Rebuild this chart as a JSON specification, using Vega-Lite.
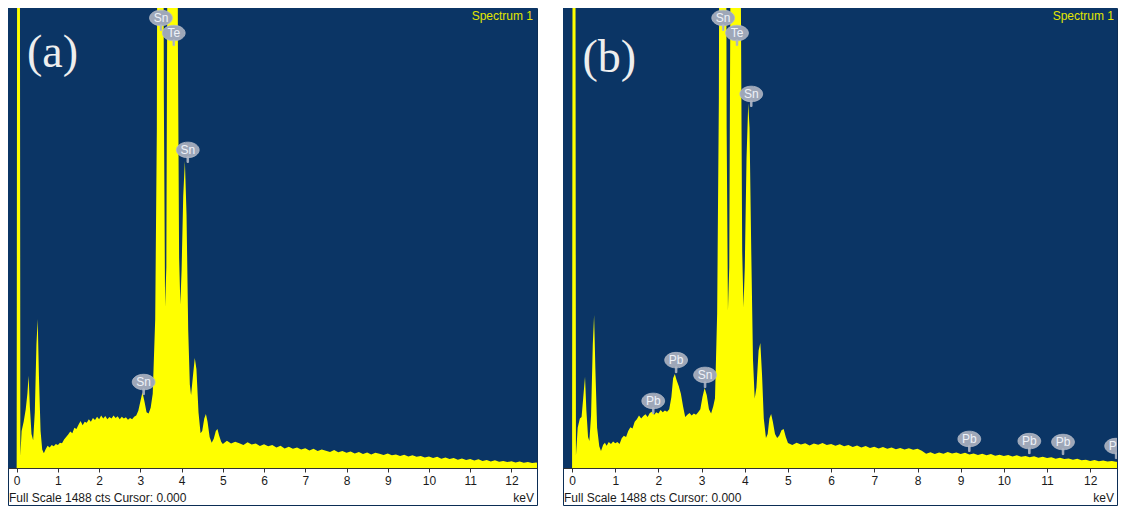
{
  "$schema": "https://vega.github.io/schema/vega-lite/v6.json",
  "background": "white",
  "padding": {"left": 7, "top": 7, "right": 0, "bottom": 0},
  "spacing": 24,
  "config": {
    "view": {"stroke": "#0b2d55", "strokeWidth": 1},
    "font": "Liberation Sans",
    "axisX": {
      "values": [0,0.2,0.4,0.6,0.8,1,1.2,1.4,1.6,1.8,2,2.2,2.4,2.6,2.8,3,3.2,3.4,3.6,3.8,4,4.2,4.4,4.6,4.8,5,5.2,5.4,5.6,5.8,6,6.2,6.4,6.6,6.8,7,7.2,7.4,7.6,7.8,8,8.2,8.4,8.6,8.8,9,9.2,9.4,9.6,9.8,10,10.2,10.4,10.6,10.8,11,11.2,11.4,11.6,11.8,12,12.2,12.4,12.6],
      "labelExpr": "abs(datum.value - round(datum.value)) < 0.001 ? format(datum.value, 'd') : ''",
      "labelOverlap": false, "labelFont": "Liberation Sans", "labelFontSize": 12, "labelColor": "#1a1a1a",
      "labelPadding": 3, "tickSize": 4, "tickColor": "#333333", "domainColor": "#333333",
      "grid": false, "offset": -37, "labelFlush": false, "zindex": 1, "title": null
    }
  },
  "datasets": {
    "one": [{"k": 1}],
    "specA": [
      {"e":0,"c":0},{"e":0.02,"c":3000},{"e":0.07,"c":3000},{"e":0.09,"c":40},{"e":0.12,"c":120},{"e":0.17,"c":150},{"e":0.22,"c":190},{"e":0.26,"c":240},{"e":0.29,"c":298},{"e":0.32,"c":200},{"e":0.36,"c":110},{"e":0.4,"c":90},{"e":0.44,"c":180},{"e":0.48,"c":400},{"e":0.51,"c":482},{"e":0.54,"c":300},{"e":0.58,"c":120},{"e":0.62,"c":60},{"e":0.66,"c":48},{"e":0.7,"c":60},{"e":0.75,"c":72},{"e":0.8,"c":66},{"e":0.85,"c":74},{"e":0.9,"c":70},{"e":0.95,"c":78},{"e":1.0,"c":74},{"e":1.05,"c":82},{"e":1.1,"c":80},{"e":1.15,"c":92},{"e":1.2,"c":100},{"e":1.25,"c":108},{"e":1.3,"c":118},{"e":1.35,"c":112},{"e":1.4,"c":130},{"e":1.45,"c":126},{"e":1.5,"c":140},{"e":1.55,"c":152},{"e":1.6,"c":138},{"e":1.65,"c":150},{"e":1.7,"c":146},{"e":1.75,"c":158},{"e":1.8,"c":150},{"e":1.85,"c":162},{"e":1.9,"c":155},{"e":1.95,"c":166},{"e":2.0,"c":158},{"e":2.05,"c":170},{"e":2.1,"c":160},{"e":2.15,"c":168},{"e":2.2,"c":158},{"e":2.25,"c":165},{"e":2.3,"c":160},{"e":2.35,"c":170},{"e":2.4,"c":162},{"e":2.45,"c":167},{"e":2.5,"c":158},{"e":2.55,"c":166},{"e":2.6,"c":160},{"e":2.65,"c":164},{"e":2.7,"c":156},{"e":2.75,"c":162},{"e":2.8,"c":158},{"e":2.85,"c":166},{"e":2.9,"c":170},{"e":2.95,"c":185},{"e":3.0,"c":215},{"e":3.05,"c":245},{"e":3.1,"c":215},{"e":3.15,"c":180},{"e":3.2,"c":176},{"e":3.25,"c":195},{"e":3.3,"c":240},{"e":3.36,"c":480},{"e":3.4,"c":1100},{"e":3.43,"c":3000},{"e":3.54,"c":3000},{"e":3.57,"c":1200},{"e":3.6,"c":520},{"e":3.63,"c":650},{"e":3.67,"c":2200},{"e":3.7,"c":4000},{"e":3.88,"c":4000},{"e":3.91,"c":1400},{"e":3.94,"c":680},{"e":3.97,"c":530},{"e":4.0,"c":640},{"e":4.04,"c":880},{"e":4.08,"c":993},{"e":4.12,"c":820},{"e":4.16,"c":450},{"e":4.2,"c":270},{"e":4.23,"c":235},{"e":4.27,"c":290},{"e":4.32,"c":356},{"e":4.36,"c":320},{"e":4.41,"c":180},{"e":4.46,"c":112},{"e":4.5,"c":120},{"e":4.55,"c":160},{"e":4.59,"c":175},{"e":4.63,"c":150},{"e":4.68,"c":100},{"e":4.73,"c":82},{"e":4.78,"c":95},{"e":4.83,"c":120},{"e":4.87,"c":126},{"e":4.91,"c":105},{"e":4.96,"c":85},
      {"e":5.0,"c":78},{"e":5.1,"c":88},{"e":5.2,"c":79},{"e":5.3,"c":85},{"e":5.4,"c":80},{"e":5.5,"c":74},{"e":5.6,"c":83},{"e":5.7,"c":76},{"e":5.8,"c":79},{"e":5.9,"c":71},{"e":6.0,"c":77},{"e":6.1,"c":70},{"e":6.2,"c":74},{"e":6.3,"c":66},{"e":6.4,"c":72},{"e":6.5,"c":63},{"e":6.6,"c":69},{"e":6.7,"c":62},{"e":6.8,"c":66},{"e":6.9,"c":60},{"e":7.0,"c":64},{"e":7.1,"c":57},{"e":7.2,"c":62},{"e":7.3,"c":55},{"e":7.4,"c":60},{"e":7.5,"c":56},{"e":7.6,"c":52},{"e":7.7,"c":58},{"e":7.8,"c":51},{"e":7.9,"c":55},{"e":8.0,"c":49},{"e":8.1,"c":53},{"e":8.2,"c":47},{"e":8.3,"c":52},{"e":8.4,"c":45},{"e":8.5,"c":50},{"e":8.6,"c":44},{"e":8.7,"c":49},{"e":8.8,"c":46},{"e":8.9,"c":42},{"e":9.0,"c":47},{"e":9.1,"c":41},{"e":9.2,"c":44},{"e":9.3,"c":39},{"e":9.4,"c":43},{"e":9.5,"c":37},{"e":9.6,"c":41},{"e":9.7,"c":36},{"e":9.8,"c":39},{"e":9.9,"c":34},{"e":10.0,"c":37},{"e":10.1,"c":32},{"e":10.2,"c":36},{"e":10.3,"c":30},{"e":10.4,"c":34},{"e":10.5,"c":29},{"e":10.6,"c":32},{"e":10.7,"c":27},{"e":10.8,"c":31},{"e":10.9,"c":26},{"e":11.0,"c":29},{"e":11.1,"c":24},{"e":11.2,"c":28},{"e":11.3,"c":23},{"e":11.4,"c":26},{"e":11.5,"c":21},{"e":11.6,"c":25},{"e":11.7,"c":20},{"e":11.8,"c":23},{"e":11.9,"c":19},{"e":12.0,"c":22},{"e":12.1,"c":18},{"e":12.2,"c":21},{"e":12.3,"c":17},{"e":12.4,"c":19},{"e":12.5,"c":16},{"e":12.6,"c":18},{"e":12.65,"c":16}
    ],
    "specB": [
      {"e":0,"c":0},{"e":0.02,"c":3000},{"e":0.07,"c":3000},{"e":0.09,"c":40},{"e":0.13,"c":130},{"e":0.18,"c":160},{"e":0.22,"c":165},{"e":0.26,"c":230},{"e":0.3,"c":295},{"e":0.33,"c":190},{"e":0.37,"c":100},{"e":0.4,"c":87},{"e":0.44,"c":170},{"e":0.48,"c":400},{"e":0.51,"c":495},{"e":0.54,"c":320},{"e":0.58,"c":130},{"e":0.63,"c":70},{"e":0.67,"c":55},{"e":0.72,"c":75},{"e":0.76,"c":82},{"e":0.8,"c":72},{"e":0.85,"c":84},{"e":0.9,"c":78},{"e":0.95,"c":86},{"e":1.0,"c":80},{"e":1.05,"c":84},{"e":1.1,"c":78},{"e":1.15,"c":96},{"e":1.2,"c":104},{"e":1.25,"c":100},{"e":1.3,"c":120},{"e":1.35,"c":132},{"e":1.4,"c":128},{"e":1.45,"c":150},{"e":1.5,"c":158},{"e":1.55,"c":170},{"e":1.6,"c":160},{"e":1.65,"c":168},{"e":1.7,"c":174},{"e":1.75,"c":165},{"e":1.8,"c":178},{"e":1.85,"c":182},{"e":1.9,"c":172},{"e":1.95,"c":180},{"e":2.0,"c":176},{"e":2.05,"c":188},{"e":2.1,"c":180},{"e":2.15,"c":186},{"e":2.2,"c":182},{"e":2.25,"c":190},{"e":2.3,"c":230},{"e":2.34,"c":290},{"e":2.38,"c":304},{"e":2.42,"c":285},{"e":2.47,"c":265},{"e":2.52,"c":240},{"e":2.57,"c":200},{"e":2.62,"c":165},{"e":2.67,"c":172},{"e":2.72,"c":178},{"e":2.77,"c":170},{"e":2.82,"c":176},{"e":2.87,"c":172},{"e":2.92,"c":180},{"e":2.97,"c":190},{"e":3.02,"c":230},{"e":3.07,"c":259},{"e":3.12,"c":235},{"e":3.17,"c":190},{"e":3.22,"c":176},{"e":3.27,"c":200},{"e":3.31,"c":226},{"e":3.36,"c":500},{"e":3.4,"c":1200},{"e":3.43,"c":3000},{"e":3.55,"c":3000},{"e":3.58,"c":1100},{"e":3.61,"c":510},{"e":3.64,"c":650},{"e":3.68,"c":2000},{"e":3.71,"c":4000},{"e":3.88,"c":4000},{"e":3.91,"c":1500},{"e":3.94,"c":700},{"e":3.97,"c":520},{"e":4.0,"c":650},{"e":4.04,"c":1000},{"e":4.08,"c":1180},{"e":4.11,"c":1100},{"e":4.15,"c":700},{"e":4.19,"c":350},{"e":4.23,"c":225},{"e":4.27,"c":260},{"e":4.32,"c":380},{"e":4.36,"c":404},{"e":4.4,"c":300},{"e":4.44,"c":160},{"e":4.49,"c":97},{"e":4.53,"c":110},{"e":4.57,"c":160},{"e":4.61,"c":175},{"e":4.65,"c":150},{"e":4.7,"c":110},{"e":4.75,"c":97},{"e":4.8,"c":105},{"e":4.85,"c":122},{"e":4.9,"c":126},{"e":4.95,"c":100},
      {"e":5.0,"c":81},{"e":5.1,"c":74},{"e":5.2,"c":82},{"e":5.3,"c":76},{"e":5.4,"c":80},{"e":5.5,"c":73},{"e":5.6,"c":79},{"e":5.7,"c":75},{"e":5.8,"c":81},{"e":5.9,"c":74},{"e":6.0,"c":78},{"e":6.1,"c":72},{"e":6.2,"c":77},{"e":6.3,"c":70},{"e":6.4,"c":74},{"e":6.5,"c":68},{"e":6.6,"c":73},{"e":6.7,"c":66},{"e":6.8,"c":71},{"e":6.9,"c":65},{"e":7.0,"c":69},{"e":7.1,"c":63},{"e":7.2,"c":68},{"e":7.3,"c":62},{"e":7.4,"c":66},{"e":7.5,"c":61},{"e":7.6,"c":65},{"e":7.7,"c":60},{"e":7.8,"c":64},{"e":7.9,"c":59},{"e":8.0,"c":62},{"e":8.1,"c":56},{"e":8.2,"c":46},{"e":8.3,"c":51},{"e":8.4,"c":45},{"e":8.5,"c":50},{"e":8.6,"c":46},{"e":8.7,"c":52},{"e":8.8,"c":47},{"e":8.9,"c":50},{"e":9.0,"c":45},{"e":9.1,"c":49},{"e":9.2,"c":44},{"e":9.3,"c":47},{"e":9.4,"c":42},{"e":9.5,"c":46},{"e":9.6,"c":41},{"e":9.7,"c":45},{"e":9.8,"c":40},{"e":9.9,"c":43},{"e":10.0,"c":39},{"e":10.1,"c":42},{"e":10.2,"c":37},{"e":10.3,"c":41},{"e":10.4,"c":36},{"e":10.5,"c":39},{"e":10.6,"c":35},{"e":10.7,"c":38},{"e":10.8,"c":33},{"e":10.9,"c":36},{"e":11.0,"c":32},{"e":11.1,"c":35},{"e":11.2,"c":30},{"e":11.3,"c":33},{"e":11.4,"c":29},{"e":11.5,"c":31},{"e":11.6,"c":27},{"e":11.7,"c":30},{"e":11.8,"c":25},{"e":11.9,"c":27},{"e":12.0,"c":23},{"e":12.1,"c":26},{"e":12.2,"c":22},{"e":12.3,"c":24},{"e":12.4,"c":21},{"e":12.5,"c":23},{"e":12.6,"c":20},{"e":12.65,"c":21}
    ],
    "labA": [
      {"el":"Sn","e":3.5,"c":1456},{"el":"Te","e":3.81,"c":1407},{"el":"Sn","e":4.15,"c":1029},{"el":"Sn","e":3.08,"c":278}
    ],
    "labB": [
      {"el":"Pb","e":1.88,"c":217},{"el":"Pb","e":2.41,"c":349},{"el":"Sn","e":3.08,"c":301},{"el":"Sn","e":3.5,"c":1456},{"el":"Te","e":3.82,"c":1407},{"el":"Sn","e":4.15,"c":1210},{"el":"Pb","e":9.2,"c":94},{"el":"Pb","e":10.59,"c":87},{"el":"Pb","e":11.37,"c":84},{"el":"Pb","e":12.6,"c":71}
    ]
  },
  "hconcat": [
    {
      "width": 529,
      "height": 497,
      "layer": [
        {
          "data": {"name": "one"},
          "mark": {"type": "rect", "color": "#0b3565"},
          "encoding": {
            "x": {"datum": -0.21, "type": "quantitative", "title": null,
              "scale": {"domain": [-0.21, 12.62], "nice": false, "zero": false}},
            "x2": {"datum": 12.62},
            "y": {"datum": 0, "type": "quantitative", "axis": null, "title": null,
              "scale": {"domain": [-119.7, 1488], "nice": false, "zero": false}},
            "y2": {"datum": 1488}
          }
        },
        {
          "data": {"name": "specA"},
          "mark": {"type": "area", "color": "#ffff00", "clip": true, "interpolate": "linear"},
          "encoding": {
            "x": {"field": "e", "type": "quantitative", "title": null},
            "y": {"field": "c", "type": "quantitative", "title": null, "axis": null},
            "y2": {"datum": 0}
          }
        },
        {
          "data": {"name": "labA"},
          "mark": {"type": "point", "filled": true, "clip": true, "size": 520, "color": "#9ea7b8", "opacity": 1, "stroke": "#b3bac8", "strokeWidth": 0.8,
            "shape": "M-1,0 C-1,-0.3756 -0.5523,-0.68 0,-0.68 C0.5523,-0.68 1,-0.3756 1,0 C1,0.3756 0.5523,0.68 0,0.68 C-0.5523,0.68 -1,0.3756 -1,0 Z M-0.07,0.6 L0.07,0.6 L0.07,1.1 L-0.07,1.1 Z"},
          "encoding": {
            "x": {"field": "e", "type": "quantitative", "title": null},
            "y": {"field": "c", "type": "quantitative", "axis": null, "title": null}
          }
        },
        {
          "data": {"name": "labA"},
          "mark": {"type": "text", "clip": true, "fontSize": 12, "color": "#eef2f8", "align": "center", "baseline": "middle", "font": "Liberation Sans"},
          "encoding": {
            "x": {"field": "e", "type": "quantitative", "title": null},
            "y": {"field": "c", "type": "quantitative", "axis": null, "title": null},
            "text": {"field": "el"}
          }
        },
        {
          "data": {"name": "one"},
          "mark": {"type": "text", "text": "(a)", "font": "Liberation Serif", "fontSize": 46, "color": "#eeeeee", "align": "center", "baseline": "middle"},
          "encoding": {
            "x": {"datum": 0.87, "type": "quantitative", "title": null},
            "y": {"datum": 1342, "type": "quantitative", "axis": null, "title": null}
          }
        },
        {
          "data": {"name": "one"},
          "mark": {"type": "text", "text": "Spectrum 1", "fontSize": 12, "color": "#e2e600", "align": "right", "baseline": "middle", "dx": -4},
          "encoding": {
            "x": {"datum": 12.62, "type": "quantitative", "title": null},
            "y": {"datum": 1462, "type": "quantitative", "axis": null, "title": null}
          }
        },
        {
          "data": {"name": "one"},
          "mark": {"type": "text", "text": "Full Scale 1488 cts Cursor: 0.000", "fontSize": 12, "color": "#1a1a1a", "align": "left", "baseline": "middle", "dx": 1},
          "encoding": {
            "x": {"datum": -0.21, "type": "quantitative", "title": null},
            "y": {"datum": -97, "type": "quantitative", "axis": null, "title": null}
          }
        },
        {
          "data": {"name": "one"},
          "mark": {"type": "text", "text": "keV", "fontSize": 12, "color": "#1a1a1a", "align": "right", "baseline": "middle", "dx": -3},
          "encoding": {
            "x": {"datum": 12.62, "type": "quantitative", "title": null},
            "y": {"datum": -97, "type": "quantitative", "axis": null, "title": null}
          }
        }
      ]
    },
    {
      "width": 554,
      "height": 497,
      "layer": [
        {
          "data": {"name": "one"},
          "mark": {"type": "rect", "color": "#0b3565"},
          "encoding": {
            "x": {"datum": -0.21, "type": "quantitative", "title": null,
              "scale": {"domain": [-0.21, 12.62], "nice": false, "zero": false}},
            "x2": {"datum": 12.62},
            "y": {"datum": 0, "type": "quantitative", "axis": null, "title": null,
              "scale": {"domain": [-119.7, 1488], "nice": false, "zero": false}},
            "y2": {"datum": 1488}
          }
        },
        {
          "data": {"name": "specB"},
          "mark": {"type": "area", "color": "#ffff00", "clip": true, "interpolate": "linear"},
          "encoding": {
            "x": {"field": "e", "type": "quantitative", "title": null},
            "y": {"field": "c", "type": "quantitative", "title": null, "axis": null},
            "y2": {"datum": 0}
          }
        },
        {
          "data": {"name": "labB"},
          "mark": {"type": "point", "filled": true, "clip": true, "size": 520, "color": "#9ea7b8", "opacity": 1, "stroke": "#b3bac8", "strokeWidth": 0.8,
            "shape": "M-1,0 C-1,-0.3756 -0.5523,-0.68 0,-0.68 C0.5523,-0.68 1,-0.3756 1,0 C1,0.3756 0.5523,0.68 0,0.68 C-0.5523,0.68 -1,0.3756 -1,0 Z M-0.07,0.6 L0.07,0.6 L0.07,1.1 L-0.07,1.1 Z"},
          "encoding": {
            "x": {"field": "e", "type": "quantitative", "title": null},
            "y": {"field": "c", "type": "quantitative", "axis": null, "title": null}
          }
        },
        {
          "data": {"name": "labB"},
          "mark": {"type": "text", "clip": true, "fontSize": 12, "color": "#eef2f8", "align": "center", "baseline": "middle", "font": "Liberation Sans"},
          "encoding": {
            "x": {"field": "e", "type": "quantitative", "title": null},
            "y": {"field": "c", "type": "quantitative", "axis": null, "title": null},
            "text": {"field": "el"}
          }
        },
        {
          "data": {"name": "one"},
          "mark": {"type": "text", "text": "(b)", "font": "Liberation Serif", "fontSize": 46, "color": "#eeeeee", "align": "center", "baseline": "middle"},
          "encoding": {
            "x": {"datum": 0.86, "type": "quantitative", "title": null},
            "y": {"datum": 1326, "type": "quantitative", "axis": null, "title": null}
          }
        },
        {
          "data": {"name": "one"},
          "mark": {"type": "text", "text": "Spectrum 1", "fontSize": 12, "color": "#e2e600", "align": "right", "baseline": "middle", "dx": -3},
          "encoding": {
            "x": {"datum": 12.62, "type": "quantitative", "title": null},
            "y": {"datum": 1462, "type": "quantitative", "axis": null, "title": null}
          }
        },
        {
          "data": {"name": "one"},
          "mark": {"type": "text", "text": "Full Scale 1488 cts Cursor: 0.000", "fontSize": 12, "color": "#1a1a1a", "align": "left", "baseline": "middle", "dx": 1},
          "encoding": {
            "x": {"datum": -0.21, "type": "quantitative", "title": null},
            "y": {"datum": -97, "type": "quantitative", "axis": null, "title": null}
          }
        },
        {
          "data": {"name": "one"},
          "mark": {"type": "text", "text": "keV", "fontSize": 12, "color": "#1a1a1a", "align": "right", "baseline": "middle", "dx": -3},
          "encoding": {
            "x": {"datum": 12.62, "type": "quantitative", "title": null},
            "y": {"datum": -97, "type": "quantitative", "axis": null, "title": null}
          }
        }
      ]
    }
  ]
}
